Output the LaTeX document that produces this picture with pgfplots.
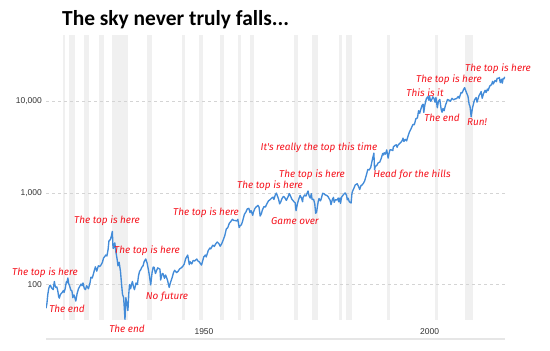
\documentclass[border=0pt]{standalone}
\usepackage{fontspec}
\setmainfont{Carlito}
\newfontfamily\annfont{Fira Sans}
\newfontfamily\tickfont{Liberation Sans}
\usepackage{pgfplots}
\pgfplotsset{compat=1.18}
\definecolor{dow}{RGB}{66,139,216}
\definecolor{band}{RGB}{240,240,240}
\definecolor{gridc}{RGB}{212,212,212}
\definecolor{annred}{RGB}{245,20,30}
\definecolor{axisbase}{RGB}{230,230,230}
\tikzset{ann/.style={text=annred, font=\annfont\itshape\fontsize{10}{11}\selectfont, inner sep=0pt}}
\begin{document}
\begin{tikzpicture}
\path (0,0) rectangle (550bp,351bp);
\begin{axis}[
  set layers,
  at={(46bp,31bp)}, anchor=south west,
  scale only axis, width=459bp, height=285bp,
  xmin=1915, xmax=2016.7,
  ymode=log, ymin=41, ymax=53000,
  axis line style={draw=none},
  major tick length=0pt, minor tick length=0pt,
  xtick={1950,2000}, xticklabels={1950,2000},
  ytick={100,1000,10000}, yticklabels={100,{1,000},{10,000}},
  ymajorgrids,
  grid style={dash pattern=on 3bp off 3bp, color=gridc, line width=0.8bp},
  tick label style={font=\tickfont\fontsize{8.5}{10}\selectfont, text=black!80},
  xticklabel style={inner sep=0pt, anchor=north, yshift=-8bp},
  yticklabel style={inner sep=0pt, anchor=east, xshift=-4bp},
  clip=true,
]
% recession bands (start, end)
\addplot[fill=band, draw=none, on layer=axis background] coordinates {(1918.67,41) (1918.67,53000) (1919.25,53000) (1919.25,41)};
\addplot[fill=band, draw=none, on layer=axis background] coordinates {(1920.0,41) (1920.0,53000) (1921.5,53000) (1921.5,41)};
\addplot[fill=band, draw=none, on layer=axis background] coordinates {(1923.4,41) (1923.4,53000) (1924.5,53000) (1924.5,41)};
\addplot[fill=band, draw=none, on layer=axis background] coordinates {(1926.8,41) (1926.8,53000) (1927.9,53000) (1927.9,41)};
\addplot[fill=band, draw=none, on layer=axis background] coordinates {(1929.6,41) (1929.6,53000) (1933.2,53000) (1933.2,41)};
\addplot[fill=band, draw=none, on layer=axis background] coordinates {(1937.4,41) (1937.4,53000) (1938.5,53000) (1938.5,41)};
\addplot[fill=band, draw=none, on layer=axis background] coordinates {(1945.1,41) (1945.1,53000) (1945.8,53000) (1945.8,41)};
\addplot[fill=band, draw=none, on layer=axis background] coordinates {(1948.9,41) (1948.9,53000) (1949.8,53000) (1949.8,41)};
\addplot[fill=band, draw=none, on layer=axis background] coordinates {(1953.5,41) (1953.5,53000) (1954.4,53000) (1954.4,41)};
\addplot[fill=band, draw=none, on layer=axis background] coordinates {(1957.6,41) (1957.6,53000) (1958.3,53000) (1958.3,41)};
\addplot[fill=band, draw=none, on layer=axis background] coordinates {(1960.3,41) (1960.3,53000) (1961.1,53000) (1961.1,41)};
\addplot[fill=band, draw=none, on layer=axis background] coordinates {(1969.9,41) (1969.9,53000) (1970.9,53000) (1970.9,41)};
\addplot[fill=band, draw=none, on layer=axis background] coordinates {(1973.9,41) (1973.9,53000) (1975.2,53000) (1975.2,41)};
\addplot[fill=band, draw=none, on layer=axis background] coordinates {(1980.0,41) (1980.0,53000) (1980.5,53000) (1980.5,41)};
\addplot[fill=band, draw=none, on layer=axis background] coordinates {(1981.5,41) (1981.5,53000) (1982.9,53000) (1982.9,41)};
\addplot[fill=band, draw=none, on layer=axis background] coordinates {(1990.5,41) (1990.5,53000) (1991.2,53000) (1991.2,41)};
\addplot[fill=band, draw=none, on layer=axis background] coordinates {(2001.2,41) (2001.2,53000) (2001.9,53000) (2001.9,41)};
\addplot[fill=band, draw=none, on layer=axis background] coordinates {(2007.9,41) (2007.9,53000) (2009.5,53000) (2009.5,41)};
% Dow Jones Industrial Average
\addplot[dow, line width=1.35bp, line join=round] coordinates {
(1915.0,55) (1915.2,62) (1915.4,78) (1915.6,90) (1915.8,97) (1916.0,98) (1916.2,92) (1916.4,90) (1916.6,88) (1916.85,108)
(1917.0,98) (1917.2,93) (1917.4,94) (1917.6,86) (1917.8,74) (1917.95,71) (1918.2,78) (1918.4,80) (1918.6,82) (1918.85,86)
(1919.0,82) (1919.25,90) (1919.5,107) (1919.6,104) (1919.85,118) (1920.0,103) (1920.25,96) (1920.5,87) (1920.75,85) (1920.95,72)
(1921.2,77) (1921.4,72) (1921.6,66) (1921.9,80) (1922.2,90) (1922.5,96) (1922.75,101) (1923.0,97) (1923.2,104) (1923.5,90)
(1923.75,88) (1924.0,97) (1924.4,90) (1924.75,104) (1924.95,120) (1925.25,118) (1925.5,130) (1925.75,145) (1925.95,156) (1926.25,140)
(1926.6,160) (1926.9,157) (1927.25,165) (1927.5,175) (1927.75,195) (1927.95,200) (1928.25,210) (1928.5,205) (1928.75,240) (1928.95,300)
(1929.25,310) (1929.5,340) (1929.7,381) (1929.85,250) (1929.95,248) (1930.25,285) (1930.5,225) (1930.75,190) (1930.95,160) (1931.2,175)
(1931.5,140) (1931.75,100) (1931.95,78) (1932.2,72) (1932.35,55) (1932.5,41.5) (1932.7,72) (1932.95,60) (1933.15,52) (1933.35,80)
(1933.5,100) (1933.75,90) (1933.95,100) (1934.15,108) (1934.4,94) (1934.6,88) (1934.95,104) (1935.25,100) (1935.5,125) (1935.75,140)
(1935.95,144) (1936.25,155) (1936.5,160) (1936.75,178) (1937.1,190) (1937.4,172) (1937.75,140) (1937.95,121) (1938.2,99) (1938.5,135)
(1938.75,155) (1938.95,154) (1939.25,132) (1939.5,142) (1939.75,152) (1939.95,150) (1940.25,147) (1940.4,112) (1940.75,132) (1940.95,131)
(1941.25,117) (1941.5,127) (1941.75,118) (1941.95,110) (1942.3,93) (1942.6,106) (1942.95,119) (1943.25,135) (1943.5,143) (1943.95,135)
(1944.3,140) (1944.6,148) (1944.95,152) (1945.3,158) (1945.6,166) (1945.95,192) (1946.4,210) (1946.75,165) (1946.95,177) (1947.3,168)
(1947.6,183) (1947.95,181) (1948.4,190) (1948.7,180) (1948.95,177) (1949.45,163) (1949.7,180) (1949.95,200) (1950.3,210) (1950.5,200)
(1950.95,235) (1951.3,250) (1951.5,245) (1951.95,269) (1952.3,260) (1952.6,278) (1952.95,291) (1953.3,280) (1953.6,262) (1953.95,280)
(1954.3,310) (1954.6,340) (1954.95,404) (1955.3,420) (1955.6,465) (1955.95,488) (1956.3,515) (1956.6,500) (1956.95,499) (1957.3,495)
(1957.5,515) (1957.8,420) (1957.95,435) (1958.3,450) (1958.6,500) (1958.95,583) (1959.3,620) (1959.6,670) (1959.95,679) (1960.2,610)
(1960.45,640) (1960.8,570) (1960.95,615) (1961.3,680) (1961.6,705) (1961.95,731) (1962.2,700) (1962.45,560) (1962.7,590) (1962.95,652)
(1963.3,710) (1963.6,700) (1963.95,762) (1964.3,820) (1964.6,840) (1964.95,874) (1965.3,900) (1965.5,850) (1965.8,950) (1966.05,995)
(1966.3,920) (1966.55,850) (1966.75,760) (1966.95,785) (1967.3,870) (1967.6,915) (1967.8,905) (1967.95,880) (1968.25,830) (1968.6,900)
(1968.9,985) (1969.2,920) (1969.5,850) (1969.7,830) (1969.95,800) (1970.2,780) (1970.4,640) (1970.7,760) (1970.95,838) (1971.3,940)
(1971.6,880) (1971.85,800) (1971.95,890) (1972.3,950) (1972.6,925) (1972.95,1020) (1973.05,1050) (1973.3,930) (1973.55,880) (1973.8,980)
(1973.95,850) (1974.3,850) (1974.55,760) (1974.75,600) (1974.95,616) (1975.3,800) (1975.5,870) (1975.8,820) (1975.95,852) (1976.3,990)
(1976.6,980) (1976.9,950) (1977.2,940) (1977.5,910) (1977.95,830) (1978.15,745) (1978.45,850) (1978.7,895) (1978.85,790) (1979.1,840)
(1979.5,840) (1979.75,880) (1979.85,800) (1980.15,880) (1980.25,770) (1980.5,900) (1980.95,965) (1981.3,1000) (1981.6,940) (1981.75,840)
(1981.95,875) (1982.2,800) (1982.6,777) (1982.8,1000) (1982.95,1050) (1983.3,1150) (1983.5,1220) (1983.95,1260) (1984.3,1160) (1984.5,1090)
(1984.8,1210) (1984.95,1210) (1985.3,1270) (1985.6,1350) (1985.95,1550) (1986.3,1800) (1986.6,1780) (1986.95,1900) (1987.3,2300) (1987.65,2720)
(1987.8,1790) (1987.95,1940) (1988.3,2000) (1988.6,2130) (1988.95,2170) (1989.3,2400) (1989.6,2700) (1989.8,2600) (1989.95,2750) (1990.2,2650)
(1990.5,2950) (1990.8,2400) (1990.95,2630) (1991.2,2950) (1991.5,2950) (1991.85,2900) (1991.95,3170) (1992.3,3300) (1992.6,3350) (1992.8,3150)
(1992.95,3300) (1993.3,3450) (1993.6,3550) (1993.95,3750) (1994.1,3970) (1994.3,3650) (1994.6,3840) (1994.9,3700) (1995.2,4150) (1995.5,4600)
(1995.95,5100) (1996.3,5600) (1996.6,5550) (1996.95,6450) (1997.3,6600) (1997.55,7900) (1997.8,7400) (1997.95,7900) (1998.3,9000) (1998.55,9300)
(1998.7,7550) (1998.95,9180) (1999.3,10800) (1999.6,11200) (1999.8,10300) (1999.98,11500) (2000.2,10000) (2000.5,10500) (2000.7,11200) (2000.95,10800)
(2001.2,9800) (2001.4,11000) (2001.7,8500) (2001.95,10000) (2002.25,10500) (2002.55,8200) (2002.75,7600) (2002.95,8340) (2003.2,7900) (2003.5,9000)
(2003.95,10450) (2004.3,10300) (2004.6,10000) (2004.95,10780) (2005.3,10400) (2005.6,10600) (2005.95,10700) (2006.35,11300) (2006.55,10800) (2006.95,12460)
(2007.2,12350) (2007.5,13400) (2007.75,14100) (2007.95,13260) (2008.2,12300) (2008.5,11350) (2008.75,9300) (2008.95,8800) (2009.2,6800) (2009.5,8500)
(2009.95,10400) (2010.3,11000) (2010.5,9800) (2010.95,11580) (2011.3,12400) (2011.4,12800) (2011.65,10800) (2011.95,12200) (2012.3,13200) (2012.5,12500)
(2012.8,13600) (2012.95,13100) (2013.3,14600) (2013.5,15000) (2013.7,15100) (2013.95,16500) (2014.1,15500) (2014.5,16900) (2014.8,16400) (2014.95,17800)
(2015.3,17900) (2015.45,18200) (2015.65,16000) (2015.95,17400) (2016.1,15800) (2016.3,17800) (2016.45,17600) (2016.65,18500)
};
\end{axis}
% bottom scrollbar-like line
\draw[color=axisbase, line width=1.5bp] (46bp,12bp) -- (505bp,12bp);
% title
\node[anchor=base west, inner sep=0pt, font=\bfseries\fontsize{21.5}{24}\selectfont] at (62bp,325bp) {The sky never truly falls...};
% annotations (pixel centres, y measured from bottom)
\node[ann] at (45bp,78bp) {The top is here};
\node[ann] at (67bp,42bp) {The end};
\node[ann] at (127bp,22bp) {The end};
\node[ann] at (147bp,100bp) {The top is here};
\node[ann] at (167bp,54bp) {No future};
\node[ann] at (107bp,130bp) {The top is here};
\node[ann] at (206bp,138bp) {The top is here};
\node[ann] at (270bp,165bp) {The top is here};
\node[ann] at (312bp,176bp) {The top is here};
\node[ann] at (319bp,203bp) {It's really the top this time};
\node[ann] at (295bp,130bp) {Game over};
\node[ann] at (412bp,176bp) {Head for the hills};
\node[ann] at (425bp,258bp) {This is it};
\node[ann] at (449bp,271bp) {The top is here};
\node[ann] at (442bp,233bp) {The end};
\node[ann] at (477bp,229bp) {Run!};
\node[ann] at (498bp,282bp) {The top is here};
\end{tikzpicture}
\end{document}
